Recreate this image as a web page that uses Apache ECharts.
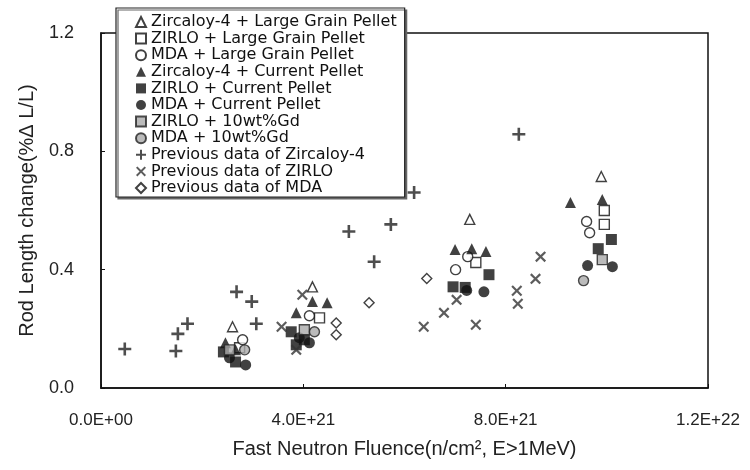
<!DOCTYPE html>
<html>
<head>
    <meta charset="utf-8">
    <script src="https://cdn.jsdelivr.net/npm/echarts@6/dist/echarts.min.js"></script>
    <style>
        body { margin: 0; background: #fff; }
    </style>
</head>
<body>
<div id="main" style="width: 750px;height:470px;"></div>
<script type="text/javascript">
    // x values in units of 1E21 n/cm2, y in % dL/L
    var xTickLabels = ['0.0E+00', '4.0E+21', '8.0E+21', '1.2E+22'];
    var yTickLabels = ['0.0', '0.4', '0.8', '1.2'];

    var zr4LargeX = [2.60, 4.18, 7.29, 9.89];
    var zr4LargeY = [0.207, 0.342, 0.570, 0.715];
    var zirloLargeX = [2.74, 4.32, 7.41, 9.95, 9.95];
    var zirloLargeY = [0.136, 0.237, 0.424, 0.600, 0.553];
    var mdaLargeX = [2.80, 4.12, 7.25, 7.01, 9.60, 9.66];
    var mdaLargeY = [0.163, 0.244, 0.444, 0.400, 0.563, 0.525];
    var zr4CurX = [2.46, 2.66, 4.18, 4.47, 3.86, 7.00, 7.33, 7.61, 9.28, 9.91];
    var zr4CurY = [0.153, 0.129, 0.292, 0.288, 0.254, 0.468, 0.471, 0.461, 0.627, 0.637];
    var zirloCurX = [2.42, 2.66, 3.76, 4.02, 3.86, 7.67, 6.96, 7.20, 10.09, 9.83];
    var zirloCurY = [0.122, 0.088, 0.190, 0.163, 0.146, 0.383, 0.342, 0.340, 0.502, 0.471];
    var mdaCurX = [2.54, 2.86, 4.12, 3.92, 7.23, 7.57, 9.62, 10.11];
    var mdaCurY = [0.102, 0.078, 0.153, 0.170, 0.330, 0.325, 0.414, 0.410];
    var zirloGdX = [2.54, 4.02, 9.91];
    var zirloGdY = [0.129, 0.197, 0.434];
    var mdaGdX = [2.84, 4.22, 9.54];
    var mdaGdY = [0.129, 0.190, 0.363];
    var prevZr4X = [0.47, 1.48, 1.52, 1.71, 2.68, 2.98, 3.07, 4.90, 5.40, 5.73, 6.19, 8.26];
    var prevZr4Y = [0.132, 0.125, 0.183, 0.217, 0.325, 0.292, 0.217, 0.529, 0.427, 0.553, 0.661, 0.858];
    var prevZirloX = [3.57, 3.86, 3.98, 6.38, 6.78, 7.03, 7.41, 8.22, 8.24, 8.59, 8.69];
    var prevZirloY = [0.207, 0.129, 0.315, 0.207, 0.254, 0.298, 0.214, 0.329, 0.285, 0.369, 0.444];
    var prevMdaX = [4.65, 4.65, 5.30, 6.44];
    var prevMdaY = [0.220, 0.180, 0.288, 0.370];

    function pts(xs, ys) {
        return xs.map(function (x, i) { return [x, ys[i]]; });
    }

    var plus = 'path://M4,0H6V4H10V6H6V10H4V6H0V4H4Z';
    var cross = 'path://M1.4,0L5,3.6L8.6,0L10,1.4L6.4,5L10,8.6L8.6,10L5,6.4L1.4,10L0,8.6L3.6,5L0,1.4Z';
    var open = {color: '#fff', borderColor: '#111', borderWidth: 1.4};
    var solid = {color: '#111'};
    var grey = {color: '#aaa', borderColor: '#222', borderWidth: 1.4};

    var series = [
        {name: 'Zircaloy-4 + Large Grain Pellet', symbol: 'triangle', symbolSize: 10, itemStyle: open, data: pts(zr4LargeX, zr4LargeY)},
        {name: 'ZIRLO + Large Grain Pellet', symbol: 'rect', symbolSize: 10, itemStyle: open, data: pts(zirloLargeX, zirloLargeY)},
        {name: 'MDA + Large Grain Pellet', symbol: 'circle', symbolSize: 10, itemStyle: open, data: pts(mdaLargeX, mdaLargeY)},
        {name: 'Zircaloy-4 + Current Pellet', symbol: 'triangle', symbolSize: 11, itemStyle: solid, data: pts(zr4CurX, zr4CurY)},
        {name: 'ZIRLO + Current Pellet', symbol: 'rect', symbolSize: 11, itemStyle: solid, data: pts(zirloCurX, zirloCurY)},
        {name: 'MDA + Current Pellet', symbol: 'circle', symbolSize: 11, itemStyle: solid, data: pts(mdaCurX, mdaCurY)},
        {name: 'ZIRLO + 10wt%Gd', symbol: 'rect', symbolSize: 10, itemStyle: grey, data: pts(zirloGdX, zirloGdY)},
        {name: 'MDA + 10wt%Gd', symbol: 'circle', symbolSize: 10, itemStyle: grey, data: pts(mdaGdX, mdaGdY)},
        {name: 'Previous data of Zircaloy-4', symbol: plus, symbolSize: 13, itemStyle: {color: '#222'}, data: pts(prevZr4X, prevZr4Y)},
        {name: 'Previous data of ZIRLO', symbol: cross, symbolSize: 11, itemStyle: {color: '#333'}, data: pts(prevZirloX, prevZirloY)},
        {name: 'Previous data of MDA', symbol: 'diamond', symbolSize: 10, itemStyle: open, data: pts(prevMdaX, prevMdaY)}
    ].map(function (s) { s.type = 'scatter'; return s; });

    var myChart = echarts.init(document.getElementById('main'));
    myChart.setOption({
        animation: false,
        textStyle: {fontFamily: 'Liberation Sans'},
        grid: {left: 101, top: 33, right: 42, bottom: 82, show: true, borderColor: '#111', borderWidth: 1.5},
        legend: {
            orient: 'vertical', left: 116, top: 8,
            padding: [6, 8, 1, 19], itemGap: 0.6, itemWidth: 10, itemHeight: 10,
            backgroundColor: '#fff', borderColor: '#222', borderWidth: 1.2,
            shadowColor: '#666', shadowOffsetX: 2, shadowOffsetY: 2, shadowBlur: 0,
            textStyle: {fontSize: 16, lineHeight: 16, color: '#111', fontFamily: 'DejaVu Sans'},
            data: series.map(function (s) { return s.name; })
        },
        xAxis: {
            type: 'value', min: 0, max: 12, interval: 4,
            name: 'Fast Neutron Fluence(n/cm², E>1MeV)', nameLocation: 'middle', nameGap: 51,
            nameTextStyle: {fontSize: 20, color: '#222'},
            axisLine: {lineStyle: {color: '#111', width: 1.5}},
            axisTick: {inside: true, length: 4, lineStyle: {color: '#111'}},
            axisLabel: {margin: 24, fontSize: 17, color: '#222', formatter: function (v) { return xTickLabels[Math.round(v / 4)]; }},
            splitLine: {show: false}
        },
        yAxis: {
            type: 'value', min: 0, max: 1.2, interval: 0.4,
            name: 'Rod Length change(%Δ L/L)', nameLocation: 'middle', nameGap: 64,
            nameTextStyle: {fontSize: 20, color: '#222'},
            axisLine: {show: true, lineStyle: {color: '#111', width: 1.5}},
            axisTick: {show: true, inside: true, length: 4, lineStyle: {color: '#111'}},
            axisLabel: {margin: 27, fontSize: 18, color: '#222', formatter: function (v) { return yTickLabels[Math.round(v / 0.4)]; }},
            splitLine: {show: false}
        },
        series: series
    });
</script>
</body>
</html>
